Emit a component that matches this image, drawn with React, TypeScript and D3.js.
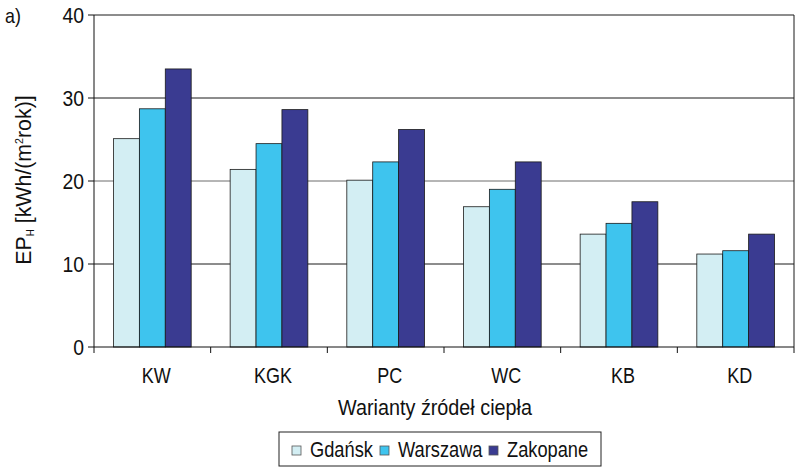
import React from 'react';
import * as d3 from 'd3';

// chart data
const categories = ['KW', 'KGK', 'PC', 'WC', 'KB', 'KD'];
const seriesNames = ['Gdańsk', 'Warszawa', 'Zakopane'];
const gdansk = [25.1, 21.4, 20.1, 16.9, 13.6, 11.2];
const warszawa = [28.7, 24.5, 22.3, 19.0, 14.9, 11.6];
const zakopane = [33.5, 28.6, 26.2, 22.3, 17.5, 13.6];
const yTicks = [0, 10, 20, 30, 40];

const seriesValues = [gdansk, warszawa, zakopane];
const colors = ['#d3eef3', '#3ec4ee', '#3a3b91'];
const FONT = '"Liberation Sans", Arial, sans-serif';

// narrow-looking text: Liberation Sans squeezed horizontally
const NText = ({ x, y, sx = 0.85, size = 21, anchor = 'start', dy, children }: any) => (
  <text transform={`translate(${x},${y}) scale(${sx},1)`} textAnchor={anchor} fontSize={size}
    dy={dy} fill="#111">{children}</text>
);

const App = () => {
  const W = 800;
  const H = 470;
  const left = 94, right = 794, top = 15, bottom = 347;

  const x = d3.scaleBand<string>().domain(categories).range([left, right]).paddingInner(0).paddingOuter(0);
  const bw = x.bandwidth();
  const x1 = d3.scaleBand<string>().domain(seriesNames).range([bw * 0.167, bw * 0.833]).padding(0);
  const y = d3.scaleLinear().domain([0, 40]).range([bottom, top]);

  const gridColor = (t: number) => (t === 20 ? '#6d6d6d' : '#1a1a1a');

  return (
    <svg width={W} height={H} style={{ position: 'absolute', left: 0, top: 0, background: '#fff' }}
      fontFamily={FONT}>
      <NText x={5} y={23} sx={0.85}>a)</NText>

      {/* gridlines */}
      {yTicks.filter(t => t > 0).map(t => (
        <line key={'g' + t} x1={left} x2={right} y1={y(t)} y2={y(t)} stroke={gridColor(t)} strokeWidth={1} />
      ))}
      <line x1={right} x2={right} y1={y(40)} y2={y(0)} stroke="#1a1a1a" strokeWidth={1} />

      {/* bars */}
      {categories.map((c, i) => (
        <g key={c} transform={`translate(${x(c)},0)`}>
          {seriesNames.map((s, j) => (
            <rect key={s} x={x1(s)} width={x1.bandwidth()} y={y(seriesValues[j][i])}
              height={y(0) - y(seriesValues[j][i])} fill={colors[j]} stroke="#1a1a1a" strokeWidth={0.8} />
          ))}
        </g>
      ))}

      {/* y axis */}
      <line x1={left} x2={left} y1={y(40)} y2={y(0)} stroke="#111" strokeWidth={1} />
      {yTicks.map(t => (
        <g key={'y' + t}>
          <line x1={left - 6} x2={left} y1={y(t)} y2={y(t)} stroke="#111" />
          <NText x={left - 10} y={y(t)} dy="0.36em" anchor="end" size={22} sx={0.88}>{t}</NText>
        </g>
      ))}

      {/* x axis */}
      <line x1={left} x2={right} y1={y(0)} y2={y(0)} stroke="#111" strokeWidth={1} />
      {[...categories.map(c => x(c) as number), right].map((p, i) => (
        <line key={'xt' + i} x1={p} x2={p} y1={y(0)} y2={y(0) + 6} stroke="#111" />
      ))}
      {categories.map(c => (
        <NText key={'xl' + c} x={(x(c) as number) + bw / 2 + 4} y={383} anchor="middle" size={22} sx={0.82}>{c}</NText>
      ))}

      <NText x={435} y={415} anchor="middle" size={22} sx={0.9}>Warianty źródeł ciepła</NText>

      <text transform="translate(31,180) rotate(-90) scale(0.97,1)" textAnchor="middle" fontSize={22} fill="#111">
        EP<tspan fontSize={10} dy={3}>H</tspan><tspan dy={-3}> [kWh/(m</tspan><tspan fontSize={11} dy={-8}>2</tspan><tspan dy={8}>rok)]</tspan>
      </text>

      {/* legend */}
      <rect x={279} y={432} width={322} height={34} fill="#fff" stroke="#222" strokeWidth={1} />
      {seriesNames.map((s, j) => {
        const sx = [292, 380, 489][j];
        return (
          <g key={'lg' + s}>
            <rect x={sx} y={446} width={9} height={9} fill={colors[j]} stroke="#555" strokeWidth={0.8} />
            <NText x={sx + 18} y={457} size={22} sx={0.83}>{s}</NText>
          </g>
        );
      })}
    </svg>
  );
};

export default App;
